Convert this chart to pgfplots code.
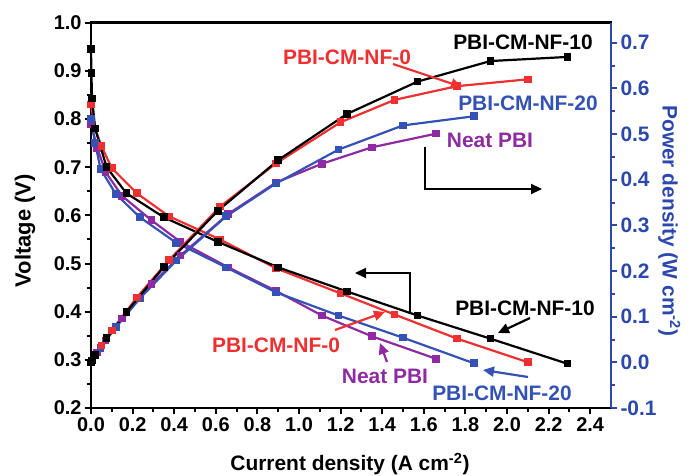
\documentclass[border=0pt]{standalone}
\usepackage{fontspec}
\setmainfont{Liberation Sans}
\usepackage{pgfplots}
\pgfplotsset{compat=1.18}
\usetikzlibrary{arrows.meta}
\definecolor{cred}{RGB}{238,48,48}
\definecolor{cblue}{RGB}{52,82,182}
\definecolor{cpurple}{RGB}{142,42,162}
\definecolor{caxis}{RGB}{45,72,172}
\newcommand{\af}{\fontsize{21}{23}\selectfont\bfseries}
\begin{document}
\begin{tikzpicture}
\useasboundingbox (-91bp,-68bp) rectangle (599bp,408bp);
\pgfplotsset{
  every axis/.append style={
    scale only axis, width=520bp, height=385.3bp, xmin=0, xmax=2.5,
    at={(0,0)}, anchor=south west, clip=false,
    tick align=outside, major tick length=6bp, minor tick length=4bp,
    /pgf/number format/assume math mode=true,
    tick label style={font=\fontsize{20}{22}\selectfont\bfseries},
    label style={font=\af},
  },
  every axis plot/.append style={line width=2.2bp, mark=square*, mark size=2.7bp, mark options={solid}},
}
\begin{axis}[
  axis line style={line width=2.5bp, black},
  every tick/.style={black, line width=2bp},
  xtick={0,0.2,0.4,0.6,0.8,1.0,1.2,1.4,1.6,1.8,2.0,2.2,2.4}, minor x tick num=1,
  ymin=0.2, ymax=1.0, ytick={0.2,0.3,0.4,0.5,0.6,0.7,0.8,0.9,1.0}, minor y tick num=1,
  xtick pos=bottom, ytick pos=left,
  xticklabel={\pgfmathprintnumber[fixed,fixed zerofill,precision=1]{\tick}},
  yticklabel={\pgfmathprintnumber[fixed,fixed zerofill,precision=1]{\tick}},
  xlabel={Current density (A cm\textsuperscript{-2})},
  xlabel style={at={(axis description cs:0.498,-0.145)}, anchor=center},
  ylabel={Voltage (V)},
  ylabel style={at={(axis description cs:-0.127,0.46)}, anchor=center, font=\fontsize{22}{24}\selectfont\bfseries},
]
\addplot[cpurple] coordinates {(0,0.79)(0.03,0.74)(0.07,0.69)(0.15,0.64)(0.29,0.59)(0.43,0.545)(0.66,0.492)(0.89,0.443)(1.11,0.392)(1.35,0.349)(1.66,0.302)};
\addplot[cblue] coordinates {(0,0.80)(0.02,0.75)(0.046,0.696)(0.12,0.644)(0.235,0.596)(0.41,0.543)(0.65,0.492)(0.89,0.44)(1.19,0.392)(1.50,0.346)(1.84,0.293)};
\addplot[cred] coordinates {(0,0.83)(0.02,0.78)(0.05,0.744)(0.10,0.698)(0.22,0.646)(0.375,0.598)(0.62,0.55)(0.89,0.49)(1.20,0.438)(1.46,0.394)(1.76,0.344)(2.10,0.295)};
\addplot[black] coordinates {(0,0.945)(0.002,0.895)(0.005,0.843)(0.02,0.78)(0.075,0.70)(0.17,0.646)(0.35,0.596)(0.61,0.545)(0.90,0.492)(1.23,0.442)(1.57,0.392)(1.92,0.344)(2.29,0.292)};
\end{axis}
\begin{axis}[
  axis y line*=right, axis x line=none,
  ymin=-0.1, ymax=0.744, ytick={-0.1,0,0.1,0.2,0.3,0.4,0.5,0.6,0.7}, minor y tick num=1,
  y axis line style={line width=2.5bp, caxis},
  every tick/.style={caxis, line width=2bp},
  yticklabel={\pgfmathprintnumber[fixed,fixed zerofill,precision=1]{\tick}},
  yticklabel style={caxis, font=\fontsize{21}{23}\selectfont\bfseries},
  ylabel={Power density (W cm\textsuperscript{-2})},
  ylabel style={caxis, at={(axis description cs:1.112,0.486)}, anchor=center, rotate=180},
]
\addplot[cpurple] coordinates {(0,0)(0.03,0.022)(0.07,0.048)(0.15,0.096)(0.29,0.171)(0.43,0.234)(0.66,0.325)(0.89,0.394)(1.11,0.435)(1.35,0.471)(1.66,0.501)};
\addplot[cblue] coordinates {(0,0)(0.02,0.015)(0.046,0.032)(0.12,0.077)(0.235,0.140)(0.41,0.223)(0.65,0.320)(0.89,0.392)(1.19,0.466)(1.50,0.519)(1.84,0.539)};
\addplot[cred] coordinates {(0,0)(0.02,0.016)(0.05,0.037)(0.10,0.070)(0.22,0.142)(0.375,0.224)(0.62,0.341)(0.89,0.436)(1.20,0.526)(1.46,0.575)(1.76,0.605)(2.10,0.620)};
\addplot[black] coordinates {(0,0)(0.002,0.002)(0.005,0.004)(0.02,0.016)(0.075,0.053)(0.17,0.110)(0.35,0.209)(0.61,0.332)(0.90,0.443)(1.23,0.544)(1.57,0.615)(1.92,0.660)(2.29,0.669)};
\end{axis}
% annotations
\tikzset{ar/.style={line width=2.2bp, -{Triangle[length=11bp,width=10bp]}}}
\node[font=\af, text=cred] at (256bp,351bp) {PBI-CM-NF-0};
\draw[ar, cred] (302bp,344bp) -- (371bp,321bp);
\node[font=\af, text=black] at (432bp,366bp) {PBI-CM-NF-10};
\node[font=\af, text=cblue] at (437bp,305bp) {PBI-CM-NF-20};
\node[font=\af, text=cpurple] at (399bp,268bp) {Neat PBI};
\draw[ar, black] (334bp,261bp) -- (334bp,219bp) -- (451bp,219bp);
\draw[ar, black] (319bp,96bp) -- (319bp,135bp) -- (264bp,135bp);
\node[font=\af, text=black] at (434bp,100bp) {PBI-CM-NF-10};
\draw[ar, black] (439bp,90bp) -- (407bp,75bp);
\node[font=\af, text=cred] at (185bp,63bp) {PBI-CM-NF-0};
\draw[ar, cred] (244bp,78bp) -- (294bp,96bp);
\node[font=\af, text=cpurple] at (294bp,32bp) {Neat PBI};
\draw[ar, cpurple] (296bp,46bp) -- (289bp,65bp);
\node[font=\af, text=cblue] at (411bp,15bp) {PBI-CM-NF-20};
\draw[ar, cblue] (437bp,31bp) -- (392bp,38bp);
\end{tikzpicture}
\end{document}
